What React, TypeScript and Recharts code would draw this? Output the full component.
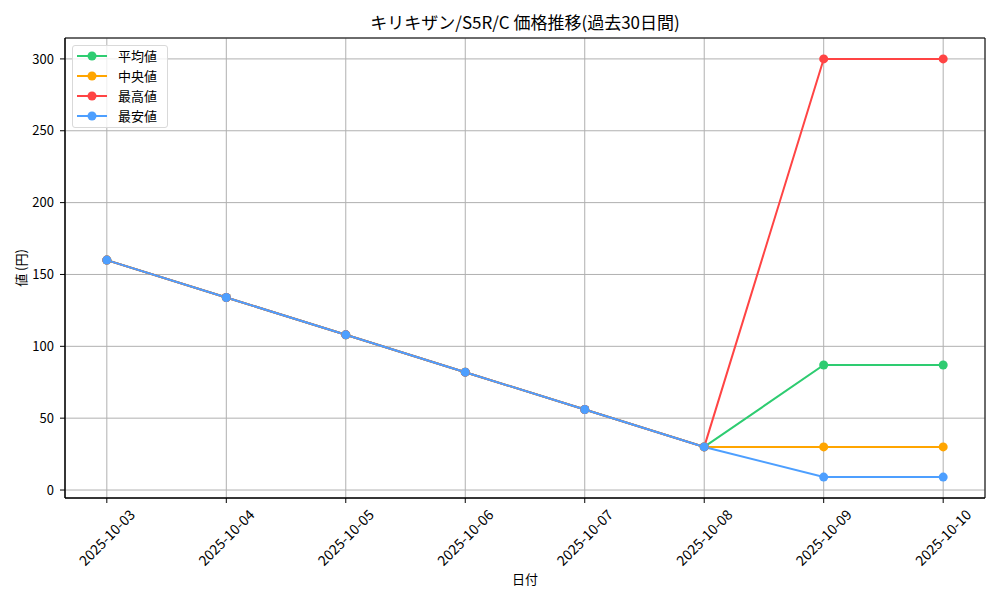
import React from 'react';
import { LineChart, Line, XAxis, YAxis, CartesianGrid, ReferenceArea } from 'recharts';

const dates = ['2025-10-03', '2025-10-04', '2025-10-05', '2025-10-06', '2025-10-07', '2025-10-08', '2025-10-09', '2025-10-10'];
const avgValues = [160, 134, 108, 82, 56, 30, 87, 87];
const medianValues = [160, 134, 108, 82, 56, 30, 30, 30];
const maxValues = [160, 134, 108, 82, 56, 30, 300, 300];
const minValues = [160, 134, 108, 82, 56, 30, 9, 9];
const yTicks = [0, 50, 100, 150, 200, 250, 300];

const seriesNames = ['平均値', '中央値', '最高値', '最安値'];
const seriesKeys = ['avg', 'median', 'max', 'min'];
const seriesColors = ['#2ecc71', '#ffa500', '#ff4444', '#4d9fff'];

const data = dates.map((d, i) => ({
  idx: i,
  date: d,
  avg: avgValues[i],
  median: medianValues[i],
  max: maxValues[i],
  min: minValues[i],
}));

const FONT = "'Noto Sans CJK JP', 'Noto Sans', sans-serif";

const XTick = (props: any) => {
  const { x, y, payload } = props;
  return (
    <text
      transform={`translate(${x - 0.5},${y + 32}) rotate(-45)`}
      textAnchor="middle"
      dominantBaseline="central"
      fontSize={14}
      fontFamily={FONT}
      fill="#000"
    >
      {dates[payload.value]}
    </text>
  );
};

const YLabel = (props: any) => {
  const vb = props.viewBox || {};
  const cy = (vb.y ?? 38) + (vb.height ?? 460) / 2;
  return (
    <text
      transform={`translate(20,${cy}) rotate(-90)`}
      textAnchor="middle"
      dominantBaseline="central"
      fontSize={13}
      fontFamily={FONT}
      fill="#000"
    >
      値 (円)
    </text>
  );
};

const XLabel = (props: any) => {
  const vb = props.viewBox || {};
  const cx = (vb.x ?? 65) + (vb.width ?? 920) / 2;
  return (
    <text x={cx} y={578} textAnchor="middle" dominantBaseline="central" fontSize={13} fontFamily={FONT} fill="#000">
      日付
    </text>
  );
};

const LegendBox = () => (
  <div
    style={{
      position: 'absolute',
      left: 72,
      top: 45,
      border: '1px solid #d9d9d9',
      borderRadius: 3,
      background: 'rgba(255,255,255,0.8)',
      padding: '0px 10px 1px 3px',
      fontFamily: FONT,
      fontSize: 13,
      whiteSpace: 'nowrap',
    }}
  >
    {seriesNames.map((n, i) => (
      <div key={n} style={{ display: 'flex', alignItems: 'center', height: 20 }}>
        <svg width={32} height={12} style={{ marginRight: 10 }}>
          <line x1={1} y1={6} x2={31} y2={6} stroke={seriesColors[i]} strokeWidth={2} />
          <circle cx={16} cy={6} r={4.5} fill={seriesColors[i]} />
        </svg>
        <span style={{ color: '#000', lineHeight: '20px' }}>{n}</span>
      </div>
    ))}
  </div>
);

export default function App() {
  return (
    <div style={{ position: 'absolute', left: 0, top: 0, width: 1000, height: 600, background: '#fff' }}>
      <div
        style={{
          position: 'absolute',
          left: 65,
          width: 920,
          top: 10,
          textAlign: 'center',
          fontFamily: FONT,
          fontSize: 17,
          lineHeight: '24px',
          color: '#000',
        }}
      >
        キリキザン/S5R/C 価格推移(過去30日間)
      </div>
      <LineChart width={1000} height={600} data={data} margin={{ top: 38, right: 15, left: 0, bottom: 0 }}>
        <CartesianGrid stroke="#b0b0b0" strokeWidth={1} vertical horizontal />
        <XAxis
          dataKey="idx"
          type="number"
          domain={[-0.35, 7.35]}
          ticks={[0, 1, 2, 3, 4, 5, 6, 7]}
          interval={0}
          height={102}
          tickSize={5}
          tickLine={{ stroke: '#000' }}
          axisLine={{ stroke: '#000' }}
          tick={<XTick />}
          label={<XLabel />}
          allowDataOverflow
        />
        <YAxis
          type="number"
          domain={[-5.55, 314.55]}
          ticks={yTicks}
          width={65}
          tickSize={5}
          tickMargin={6}
          tickLine={{ stroke: '#000' }}
          axisLine={{ stroke: '#000' }}
          tick={{ fill: '#000', fontSize: 13, fontFamily: FONT }}
          label={<YLabel />}
          allowDataOverflow
        />
        <ReferenceArea x1={-0.35} x2={7.35} y1={-5.55} y2={314.55} fill="none" stroke="#000" strokeWidth={1} ifOverflow="visible" />
        {seriesKeys.map((k, i) => (
          <Line
            key={k}
            type="linear"
            dataKey={k}
            name={seriesNames[i]}
            stroke={seriesColors[i]}
            strokeWidth={2}
            dot={{ r: 4.5, fill: seriesColors[i], stroke: seriesColors[i], strokeWidth: 0 }}
            activeDot={false}
            isAnimationActive={false}
          />
        ))}
      </LineChart>
      <LegendBox />
    </div>
  );
}
